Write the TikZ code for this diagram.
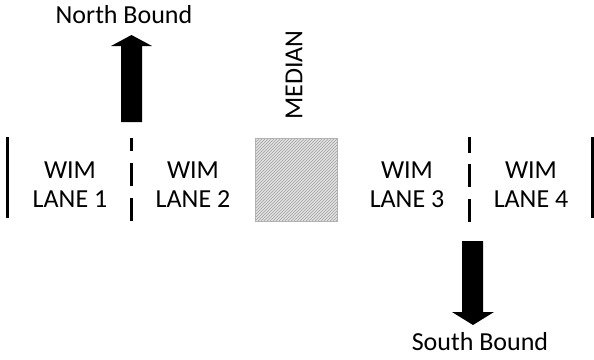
\documentclass[tikz,border=0pt]{standalone}
\usepackage{fontspec}
\setmainfont{Carlito}
\usetikzlibrary{patterns}
\begin{document}
\begin{tikzpicture}[x=1pt,y=-1pt,
  lbl/.style={font=\fontsize{26}{29}\selectfont, inner sep=0pt},
  lanetext/.style={lbl, align=center},
  edgeline/.style={line width=3pt},
  divider/.style={line width=3pt},
  bigarrow/.style={fill=black}]
\useasboundingbox (0,0) rectangle (594,359);

% outer road edges
\draw[edgeline] (7.5,137) -- (7.5,218);
\draw[edgeline] (592,137) -- (592,218);

% lane dividers (dashed)
\draw[divider, dash pattern=on 13pt off 12pt on 23pt off 12pt on 23pt off 40pt] (131,138) -- (131,221);
\draw[divider, dash pattern=on 16pt off 11pt on 23pt off 12pt on 23pt off 40pt] (469,137) -- (469,222);

% median
\fill[gray!22] (255,138) rectangle (337,221);
\fill[pattern=north east lines, pattern color=gray!75] (255,138) rectangle (337,221);
\draw[gray!60, line width=0.6pt] (255,138) rectangle (337,221);
\node[lbl, rotate=90] (median) at (294,75) {MEDIAN};

% lane labels
\node[lanetext] (lane1) at (70,185)  {WIM\\LANE 1};
\node[lanetext] (lane2) at (193,185) {WIM\\LANE 2};
\node[lanetext] (lane3) at (407,185) {WIM\\LANE 3};
\node[lanetext] (lane4) at (531,185) {WIM\\LANE 4};

% direction arrows
\fill[bigarrow] (121,122) -- (121,46) -- (111,46) -- (131.5,35) -- (152,46) -- (142,46) -- (142,122) -- cycle;
\node[lbl, anchor=base] (north) at (124,23) {North Bound};

\fill[bigarrow] (462,241) -- (462,312) -- (452,312) -- (473,325) -- (494,312) -- (483,312) -- (483,241) -- cycle;
\node[lbl, anchor=base] (south) at (480,350) {South Bound};
\end{tikzpicture}
\end{document}
